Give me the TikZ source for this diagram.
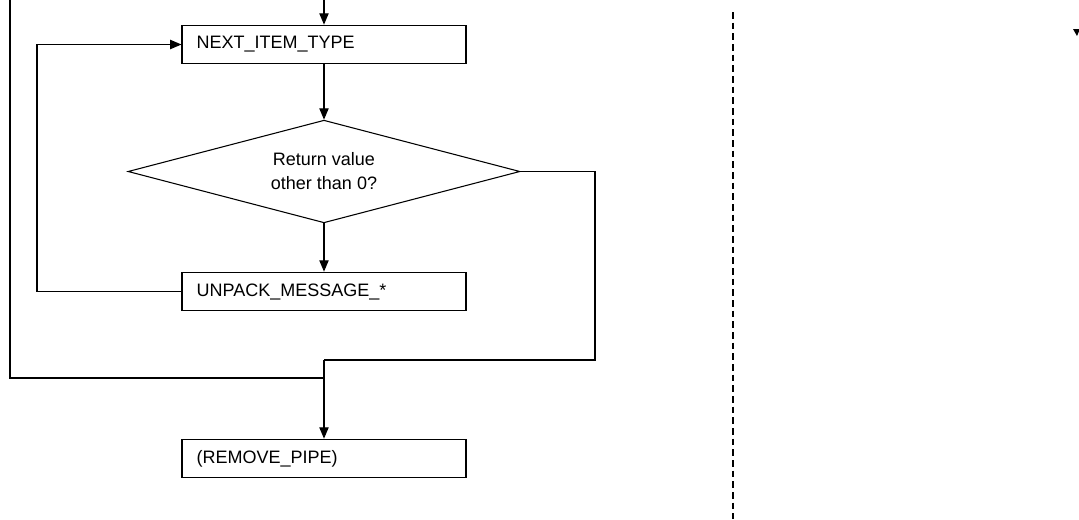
\documentclass[tikz,border=0pt]{standalone}
\usepackage{fontspec}
\setmainfont{Liberation Sans}
\usetikzlibrary{shapes.geometric,arrows.meta}
\tikzset{
	stepbox/.style={draw,line width=0.8pt,minimum width=213pt,minimum height=29pt,inner xsep=11pt,text width=191pt,align=left,font=\fontsize{13.5}{18}\selectfont},
	testbox/.style={draw,diamond,aspect=3.8,line width=0.8pt,minimum width=294pt,minimum height=77pt,inner sep=0pt,align=center,font=\fontsize{13.5}{18}\selectfont},
	flow/.style={line width=0.8pt},
	arr/.style={flow,-{Triangle[length=8.5pt,width=7pt]}},
}
\begin{document}
\begin{tikzpicture}[x=0.75pt,y=-0.75pt]
	\useasboundingbox (0,0) rectangle (1079,519);
	% flow boxes
	\node[stepbox] (next) at (324,44.5) {NEXT\_ITEM\_TYPE};
	\node[testbox] (test) at (324,171.5) {Return value\\other than 0?};
	\node[stepbox] (unpack) at (324,291.5) {UNPACK\_MESSAGE\_*};
	\node[stepbox] (remove) at (324,458.5) {(REMOVE\_PIPE)};
	% helper points
	\coordinate (entry) at (324,0);
	\coordinate (loop) at (37,150);
	\coordinate (rside) at (595,360);
	\coordinate (rjoin) at (324,360);
	\coordinate (ltop) at (10,0);
	\coordinate (lbot) at (10,378);
	\coordinate (septop) at (733,12);
	\coordinate (sepbot) at (733,519);
	% connectors
	\draw[arr] (entry) -- (next);
	\draw[arr] (next) -- (test);
	\draw[arr] (test) -- (unpack);
	\draw[arr] (unpack.west) -| (loop) |- (next.west); % loop back
	\draw[flow] (test.east) -| (rside) -- (rjoin); % exit branch
	\draw[flow] (ltop) -- (lbot) -- (rjoin |- lbot);
	\draw[arr] (rjoin) -- (remove);
	% separator and cut-off tip
	\draw[line width=0.9pt,dash pattern=on 5pt off 3pt] (septop) -- (sepbot);
	\fill (1073,29) -- (1080,29) -- (1077,36) -- cycle;
\end{tikzpicture}
\end{document}
